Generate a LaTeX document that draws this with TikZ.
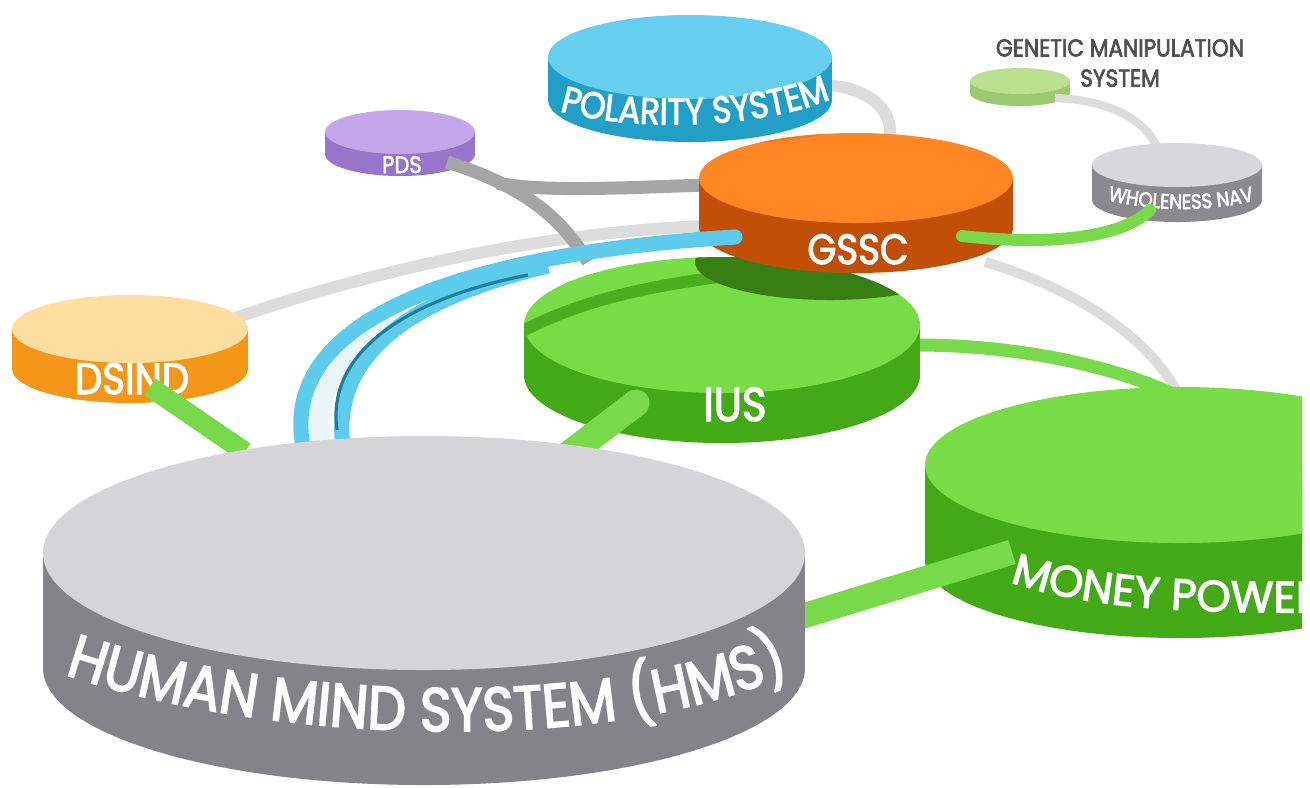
\documentclass[tikz,border=0pt]{standalone}
\usepackage{fontspec}
\setmainfont{Poppins}
\newfontfamily\pop{Poppins}[FakeStretch=0.88,FakeBold=2.6]
\newfontfamily\popw{Poppins}[FakeBold=2.6]
\usetikzlibrary{decorations.text}
\definecolor{hmsTop}{HTML}{D5D5D7}
\definecolor{hmsSide}{HTML}{848488}
\definecolor{gTop}{HTML}{78DC46}
\definecolor{gSide}{HTML}{43A916}
\definecolor{gBand}{HTML}{4AAE1E}
\definecolor{gShadow}{HTML}{377E13}
\definecolor{cGreen}{HTML}{78D94A}
\definecolor{gsTop}{HTML}{FF8622}
\definecolor{gsShade}{HTML}{F27A1C}
\definecolor{gsSide}{HTML}{C14F07}
\definecolor{polTop}{HTML}{66CEEE}
\definecolor{polSide}{HTML}{219FC6}
\definecolor{pdsTop}{HTML}{C3A7EA}
\definecolor{pdsSide}{HTML}{9675CA}
\definecolor{genTop}{HTML}{BADF8F}
\definecolor{genSide}{HTML}{9DC872}
\definecolor{whTop}{HTML}{D8D8DA}
\definecolor{whSide}{HTML}{8A8A8E}
\definecolor{dsTop}{HTML}{FEDE9E}
\definecolor{dsSide}{HTML}{F49618}
\definecolor{lGray}{HTML}{DCDCDC}
\definecolor{dGray}{HTML}{A5A5A5}
\definecolor{bBlue}{HTML}{5CCBEC}
\definecolor{bPale}{HTML}{EAF5F8}
\definecolor{bTeal}{HTML}{1C7F97}
\definecolor{genText}{HTML}{505053}
\newcommand\drum[7]{%
  \fill[#7] ({#1-#3},#2) rectangle ({#1+#3},{#2+#5});
  \fill[#7] (#1,{#2+#5}) ellipse [x radius=#3, y radius=#4];
  \fill[#6] (#1,#2) ellipse [x radius=#3, y radius=#4];
}
\newcommand\hmsfont{\pop\fontsize{17.5}{20}\selectfont}
\newcommand\polfont{\pop\fontsize{10.6}{12}\selectfont}
\newcommand\monfont{\popw\fontsize{12.5}{14}\selectfont}
\newcommand\whfont{\pop\fontsize{5.9}{7}\selectfont}
\tikzset{
  lbl/.style={text=white, inner sep=0pt, anchor=base},
  lgline/.style={draw=lGray, line width=#1},
  dgline/.style={draw=dGray, line width=#1},
  grline/.style={draw=cGreen, line width=#1},
  blline/.style={draw=bBlue, line width=#1},
  curvedlbl/.style={decorate, decoration={text along path, text={#1}, text color=white, text align=center}},
}
\begin{document}
\begin{tikzpicture}[x=0.01cm, y=-0.01cm]
\fill[white] (0,0) rectangle (1310,787);
\useasboundingbox (0,0) rectangle (1310,787);

% ---- connector end points
\coordinate (dsR) at (235,318);
\coordinate (gsL) at (705,226);
\coordinate (polR) at (826,85);
\coordinate (gsT) at (890,137);
\coordinate (pdsR) at (447,162);
\coordinate (pdsJ) at (497,183);
\coordinate (pdsEnd) at (588,262);
\coordinate (gsL2) at (705,185);
\coordinate (gsBR) at (985,262);
\coordinate (monT) at (1177,392);
\coordinate (iusR) at (918,345);
\coordinate (monT2) at (1175,395);
\coordinate (genR) at (1055,98);
\coordinate (whT) at (1157,147);
\coordinate (gsR) at (962,236);
\coordinate (whS) at (1150,210);
\coordinate (gsB) at (735,237);
\coordinate (hmsT1) at (303,447);
\coordinate (blueJ) at (548,266);
\coordinate (hmsT2) at (343,447);
\coordinate (dsS) at (150,387);
\coordinate (hmsT3) at (245,452);
\coordinate (iusS) at (636,403);
\coordinate (hmsT4) at (568,455);
\coordinate (hmsR) at (790,620);
\coordinate (monS) at (1012,552);

% ---- far connectors
\draw[lgline=3.4pt] (dsR) .. controls (380,268) and (550,232) .. (gsL);
\draw[lgline=3.4pt] (polR) .. controls (870,88) and (893,110) .. (gsT);

% ---- POLARITY SYSTEM
\drum{690}{57}{142}{42}{43}{polTop}{polSide}
\path[curvedlbl={|\polfont|POLARITY SYSTEM}] (550,108) .. controls (620,132) and (760,132) .. (840,95);

% ---- PDS
\drum{400}{132}{75}{22}{22}{pdsTop}{pdsSide}
\node[lbl, font=\pop\fontsize{6.8}{8}\selectfont] (pdsl) at (402,173) {PDS};
\draw[dgline=3.7pt] (pdsR) .. controls (520,185) and (560,215) .. (pdsEnd);
\draw[dgline=3.7pt] (pdsJ) .. controls (540,192) and (620,188) .. (gsL2);

% ---- GSSC -> MONEY, IUS -> MONEY
\draw[lgline=2.85pt] (gsBR) .. controls (1080,290) and (1150,340) .. (monT);
\draw[grline=3.7pt] (iusR) .. controls (1000,345) and (1100,360) .. (monT2);

% ---- GENETIC MANIPULATION SYSTEM and WHOLENESS NAV
\drum{1020}{81}{50}{13}{12}{genTop}{genSide}
\draw[lgline=2.3pt] (genR) .. controls (1110,100) and (1145,120) .. (whT);
\drum{1177}{165}{85}{22}{35}{whTop}{whSide}
\path[curvedlbl={|\whfont|WHOLENESS NAV}] (1094,197) .. controls (1150,212) and (1210,214) .. (1268,197);
\node[font=\pop\fontsize{7}{8.6}\selectfont, text=genText, align=center, inner sep=0pt] (gentxt) at (1120,63) {GENETIC MANIPULATION\\SYSTEM};

% ---- IUS
\drum{722}{325}{198}{68}{50}{gTop}{gSide}
\begin{scope}
  \clip (722,325) ellipse [x radius=198, y radius=68];
  \draw[draw=gBand, line width=3.4pt] (515,335) .. controls (580,300) and (650,283) .. (780,270);
  \fill[gShadow] (830,262) ellipse [x radius=135, y radius=38];
\end{scope}
\node[lbl, font=\pop\fontsize{13.5}{15}\selectfont] (iusl) at (735,421) {IUS};

% ---- GSSC
\drum{856}{178}{157}{45}{50}{gsTop}{gsSide}
\begin{scope}
  \clip (856,178) ellipse [x radius=157, y radius=45];
  \fill[gsShade] (715,118) ellipse [x radius=140, y radius=26];
\end{scope}
\node[lbl, font=\pop\fontsize{12}{14}\selectfont] (gsscl) at (858,264) {GSSC};
\draw[grline=3.4pt, line cap=round] (gsR) .. controls (1040,245) and (1120,240) .. (whS);

% ---- blue ribbon GSSC -> HMS
\draw[draw=bPale, line width=6pt] (470,288) .. controls (370,320) and (305,370) .. (322,447);
\draw[blline=4.3pt, line cap=round] (gsB) .. controls (520,250) and (275,300) .. (hmsT1);
\draw[blline=4.3pt] (blueJ) .. controls (420,296) and (330,350) .. (hmsT2);
\draw[draw=bTeal, line width=0.9pt] (528,275) .. controls (418,296) and (325,347) .. (337,430);

% ---- DSIND
\drum{130}{329}{118}{34}{40}{dsTop}{dsSide}
\node[lbl, font=\pop\fontsize{12.5}{14}\selectfont] (dsindl) at (132,394) {DSIND};
\draw[grline=5.7pt] (dsS) -- (hmsT3);
\draw[grline=7.7pt, line cap=round] (iusS) -- (hmsT4);

% ---- MONEY POWER
\begin{scope}
  \clip (0,0) rectangle (1302,787);
  \drum{1180}{465}{255}{78}{95}{gTop}{gSide}
  \path[decorate, decoration={text along path, text={|\monfont|MONEY POWER}, text color=white}] (1010,582) .. controls (1080,605) and (1160,615) .. (1360,612);
\end{scope}
\draw[grline=7.1pt] (hmsR) -- (monS);

% ---- HUMAN MIND SYSTEM
\drum{424}{553}{381}{117}{115}{hmsTop}{hmsSide}
\path[curvedlbl={|\hmsfont|HUMAN MIND SYSTEM (HMS)}] (58,672) .. controls (250,740) and (600,762) .. (797,670);
\end{tikzpicture}
\end{document}
